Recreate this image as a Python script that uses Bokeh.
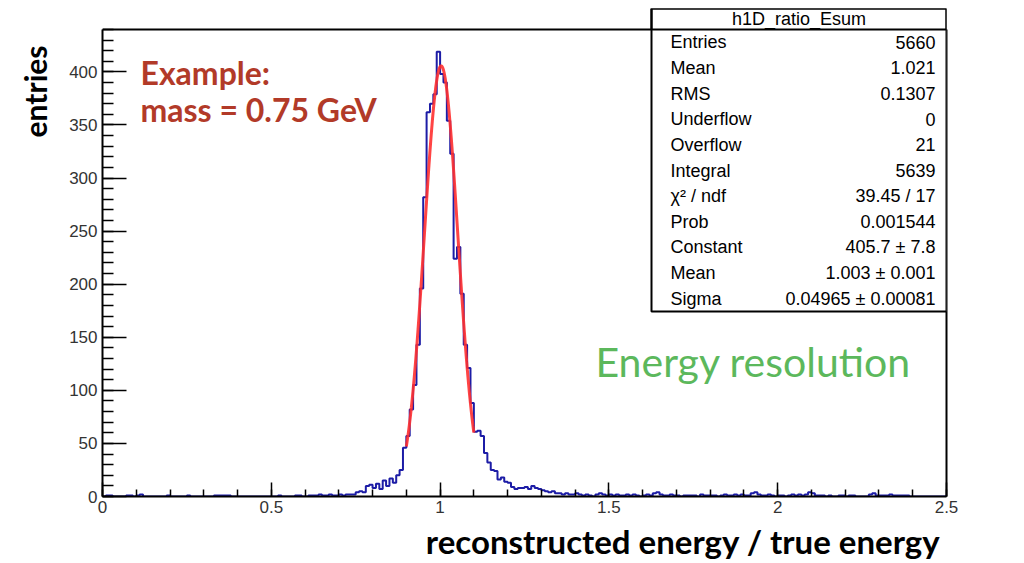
import numpy as np
from bokeh.plotting import figure
from bokeh.models import (Range1d, SingleIntervalTicker, CustomJSTickFormatter,
                          Label, BoxAnnotation, Span, LinearAxis, FixedTicker, Title)
from bokeh.embed import file_html
from bokeh.resources import INLINE

# ---------------- data ----------------
hist_name = "h1D_ratio_Esum"
x_min, x_max, n_bins = 0.0, 2.5, 250
counts = [
    0, 1, 1, 0, 0, 0, 0, 1, 1, 0,            # 0.0
    1, 2, 0, 0, 0, 0, 0, 0, 0, 1,            # 0.1
    0, 0, 0, 0, 0, 1, 0, 0, 0, 0,            # 0.2
    0, 0, 0, 1, 1, 1, 1, 1, 0, 0,            # 0.3
    0, 0, 0, 0, 0, 0, 0, 0, 0, 0,            # 0.4
    0, 0, 1, 0, 0, 0, 0, 1, 1, 0,            # 0.5
    0, 1, 1, 1, 2, 1, 1, 2, 1, 1,            # 0.6
    2, 1, 2, 2, 2, 4, 5, 4, 10, 11,          # 0.7
    8, 12, 7, 15, 10, 17, 13, 20, 25, 46,    # 0.8
    57, 82, 105, 143, 196, 282, 362, 370, 379, 419,   # 0.9
    398, 390, 354, 323, 224, 235, 191, 143, 121, 88,  # 1.0
    61, 62, 57, 41, 32, 25, 24, 16, 18, 14,  # 1.1
    13, 9, 7, 8, 8, 9, 7, 10, 8, 7,          # 1.2
    6, 5, 4, 5, 3, 3, 2, 3, 2, 2,            # 1.3
    3, 2, 1, 2, 1, 0, 2, 3, 2, 1,            # 1.4
    2, 1, 2, 1, 1, 2, 1, 2, 1, 0,            # 1.5
    1, 2, 1, 3, 4, 2, 1, 1, 2, 1,            # 1.6
    1, 0, 1, 1, 1, 1, 0, 2, 1, 1,            # 1.7
    1, 1, 0, 1, 2, 1, 1, 2, 1, 2,            # 1.8
    1, 1, 3, 4, 2, 1, 1, 2, 1, 0,            # 1.9
    1, 1, 0, 1, 2, 1, 2, 1, 2, 4,            # 2.0
    3, 1, 1, 1, 0, 1, 0, 0, 1, 1,            # 2.1
    0, 1, 1, 0, 0, 0, 0, 2, 3, 1,            # 2.2
    1, 1, 1, 2, 1, 1, 1, 1, 1, 0,            # 2.3
    0, 0, 0, 0, 0, 0, 0, 0, 0, 0,            # 2.4
]
fit_constant, fit_mean, fit_sigma = 405.7, 1.003, 0.04965
fit_lo, fit_hi = 0.9, 1.1
y_axis_max = 440

stat_names = ["Entries", "Mean", "RMS", "Underflow", "Overflow", "Integral",
              "\u03c7\u00b2 / ndf", "Prob", "Constant", "Mean", "Sigma"]
stat_values = ["5660", "1.021", "0.1307", "0", "21", "5639", "39.45 / 17",
               "0.001544", "405.7 \u00b1 7.8", "1.003 \u00b1 0.001",
               "0.04965 \u00b1 0.00081"]

x_title = "reconstructed energy / true energy"
y_title = "entries"
note_lines = ["Example:", "mass = 0.75 GeV"]
note2 = "Energy resolution"

# ---------------- layout ----------------
W, H = 1024, 563
fr_left, fr_right, fr_top, fr_bottom = 102, 946, 8, 497
axis_top_px = 29  # where y = y_axis_max sits
px_per_count = (fr_bottom - axis_top_px) / y_axis_max
y_top = (fr_bottom - fr_top) / px_per_count

p = figure(width=W, height=H, x_range=Range1d(x_min, x_max),
           y_range=Range1d(0, y_top), output_backend="svg", toolbar_location=None,
           min_border_left=fr_left, min_border_right=W - fr_right,
           min_border_top=fr_top, min_border_bottom=H - fr_bottom)
p.xgrid.visible = False
p.ygrid.visible = False
p.outline_line_color = None
p.background_fill_color = "white"
p.border_fill_color = "white"

# histogram outline
edges = np.linspace(x_min, x_max, n_bins + 1)
c = np.array(counts, dtype=float)
xs = np.concatenate([[edges[0]], np.repeat(edges, 2)[1:-1], [edges[-1]]])
ys = np.concatenate([[0.0], np.repeat(c, 2), [0.0]])
p.line(xs, ys, line_color="#1c1ca6", line_width=2)

# gaussian fit
xf = np.linspace(fit_lo, fit_hi, 300)
yf = fit_constant * np.exp(-0.5 * ((xf - fit_mean) / fit_sigma) ** 2)
p.line(xf, yf, line_color="#ff3030", line_width=3, line_alpha=0.9)

# axes
for ax in (p.xaxis[0], p.yaxis[0]):
    ax.axis_line_width = 2
    ax.major_tick_out = 0
    ax.minor_tick_out = 0
    ax.major_tick_line_width = 1.5
    ax.minor_tick_line_width = 1.5
    ax.major_label_text_font = "Liberation Sans"
    ax.major_label_text_font_size = "17px"
    ax.major_label_text_color = "#333333"

p.xaxis.ticker = SingleIntervalTicker(interval=0.5, num_minor_ticks=5)
p.xaxis.major_tick_in = 14
p.xaxis.minor_tick_in = 7
p.xaxis.major_label_standoff = 4
p.xaxis.formatter = CustomJSTickFormatter(code="return String(Math.round(tick*10)/10);")

p.yaxis.ticker = SingleIntervalTicker(interval=50, num_minor_ticks=5)
p.yaxis.bounds = (0, y_axis_max)
p.yaxis.major_tick_in = 24
p.yaxis.minor_tick_in = 11
p.yaxis.major_label_standoff = 5

right_ax = LinearAxis(bounds=(0, y_axis_max), ticker=FixedTicker(ticks=[]),
                      axis_line_width=2, major_tick_in=0, major_tick_out=0,
                      minor_tick_in=0, minor_tick_out=0)
p.add_layout(right_ax, "right")

# top frame line
p.add_layout(Span(location=y_axis_max, dimension="width", line_color="black",
                  line_width=2))

# axis titles
p.add_layout(Title(text=y_title, align="right", offset=37, standoff=27,
                   text_font="Lato", text_font_style="bold", text_font_size="30px",
                   text_color="black"), "left")
p.add_layout(Title(text=x_title, align="right", offset=6, standoff=6,
                   text_font="Lato", text_font_style="bold", text_font_size="33px",
                   text_color="black"), "below")

# annotations
for i, t in enumerate(note_lines):
    p.add_layout(Label(x=38, y=424 - i * 37, x_units="screen", y_units="screen",
                       text=t, text_align="left", text_baseline="middle",
                       text_font="Lato", text_font_style="bold",
                       text_font_size="32px", text_color="#b23a28"))
p.add_layout(Label(x=493, y=135, x_units="screen", y_units="screen", text=note2,
                   text_align="left", text_baseline="middle", text_font="Lato",
                   text_font_size="41px", text_color="#5cb85c"))

# stats box
bx_l, bx_r, bx_b, bx_t, title_h = 549, 844, 185, 488, 21
p.add_layout(BoxAnnotation(left=bx_l, right=bx_r, bottom=bx_b, top=bx_t,
                           left_units="screen", right_units="screen",
                           bottom_units="screen", top_units="screen",
                           fill_color="white", fill_alpha=1.0,
                           line_color="black", line_alpha=1.0, line_width=2,
                           level="annotation"))
p.add_layout(BoxAnnotation(left=bx_l, right=bx_r, bottom=bx_t - title_h, top=bx_t,
                           left_units="screen", right_units="screen",
                           bottom_units="screen", top_units="screen",
                           fill_alpha=0.0, line_color="black", line_alpha=1.0,
                           line_width=2, level="annotation"))
p.add_layout(Label(x=(bx_l + bx_r) / 2, y=bx_t - title_h / 2, x_units="screen",
                   y_units="screen", text=hist_name, text_align="center",
                   text_baseline="middle", text_font="Liberation Sans",
                   text_font_size="18px", text_color="black"))
row_h = (bx_t - title_h - bx_b) / len(stat_names)
for i, (n, v) in enumerate(zip(stat_names, stat_values)):
    yy = bx_t - title_h - (i + 0.5) * row_h
    p.add_layout(Label(x=bx_l + 19, y=yy, x_units="screen", y_units="screen",
                       text=n, text_align="left", text_baseline="middle",
                       text_font="Liberation Sans", text_font_size="18px",
                       text_color="black"))
    p.add_layout(Label(x=bx_r - 11, y=yy, x_units="screen", y_units="screen",
                       text=v, text_align="right", text_baseline="middle",
                       text_font="Liberation Sans", text_font_size="18px",
                       text_color="black"))

open("out.html", "w").write(file_html(p, INLINE))
